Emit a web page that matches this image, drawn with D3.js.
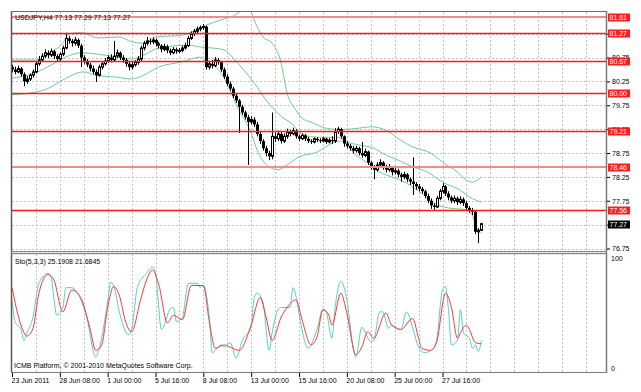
<!DOCTYPE html>
<html>
<head>
<meta charset="utf-8">
<script src="https://cdn.jsdelivr.net/npm/d3@7"></script>
<style>
  body { margin: 0; background: #fff; }
  svg text { font-family: "Liberation Sans", Arial, sans-serif; font-size: 7px; }
</style>
</head>
<body>
<script>
// ---- data (USDJPY H4, 23 Jun - 29 Jul 2011) ----
const symbol = "USDJPY,H4";

const opens = [
  80.55,80.50,80.45,80.52,80.40,80.25,80.30,80.38,80.45,80.62,
  80.70,80.78,80.85,80.80,80.88,80.78,80.72,80.82,80.95,81.15,
  81.10,81.05,81.12,81.00,80.75,80.68,80.60,80.52,80.45,80.38,
  80.55,80.62,80.68,80.75,80.70,80.78,80.85,80.75,80.70,80.62,
  80.55,80.60,80.65,80.72,80.95,81.05,81.10,81.08,81.12,81.05,
  81.00,80.92,80.98,80.90,80.85,80.92,80.88,80.90,80.95,81.00,
  81.15,81.25,81.30,81.35,81.38,81.40,80.55,80.62,80.58,80.70,
  80.65,80.50,80.35,80.20,80.10,79.95,79.85,79.72,79.60,79.50,
  79.40,79.45,79.35,79.15,79.00,78.85,78.75,78.68,79.10,79.05,
  79.15,79.00,79.10,79.20,79.15,79.22,79.10,79.05,79.12,79.05,
  79.00,78.98,79.05,79.02,79.00,79.05,78.98,79.02,79.00,79.20,
  79.25,79.10,78.95,78.90,78.85,78.80,78.85,78.75,78.70,78.78,
  78.55,78.45,78.40,78.50,78.55,78.45,78.40,78.45,78.35,78.38,
  78.30,78.25,78.30,78.20,78.15,78.10,78.05,78.00,77.95,77.85,
  77.75,77.65,77.62,77.80,77.95,78.05,77.90,77.82,77.75,77.80,
  77.72,77.78,77.70,77.60,77.55,77.52,77.10,77.13
];
const highs = [
  80.60,80.56,80.58,80.55,80.44,80.36,80.42,80.50,80.66,80.78,
  80.84,80.92,80.90,80.94,80.91,80.82,80.86,81.00,81.27,81.20,
  81.14,81.18,81.15,81.04,80.80,80.72,80.64,80.58,80.50,80.60,
  80.66,80.74,80.80,80.82,81.10,80.92,80.88,80.80,80.74,80.66,
  80.66,80.70,80.78,81.00,81.10,81.18,81.15,81.17,81.15,81.08,
  81.03,81.04,81.02,80.94,80.97,80.96,80.95,81.00,81.06,81.20,
  81.30,81.35,81.40,81.42,81.45,81.42,80.68,80.70,80.76,80.74,
  80.68,80.54,80.40,80.25,80.14,80.00,79.88,79.76,79.64,79.55,
  79.52,79.50,79.40,79.20,79.04,78.90,78.80,79.60,79.18,79.22,
  79.20,79.16,79.26,79.24,79.28,79.25,79.14,79.16,79.15,79.08,
  79.04,79.08,79.08,79.06,79.09,79.07,79.06,79.10,79.27,79.30,
  79.28,79.12,79.00,78.94,78.90,78.90,78.88,78.98,78.84,78.80,
  78.58,78.50,78.56,78.62,78.58,78.50,78.52,78.48,78.44,78.42,
  78.34,78.36,78.33,78.24,78.66,78.14,78.10,78.04,77.98,77.90,
  77.80,77.70,77.85,78.00,78.12,78.08,77.95,77.86,77.86,77.84,
  77.84,77.82,77.74,77.64,77.60,77.55,77.18,77.29
];
const lows = [
  80.44,80.40,80.42,80.35,80.15,80.20,80.26,80.33,80.42,80.58,
  80.66,80.74,80.74,80.76,80.72,80.66,80.68,80.78,80.92,81.04,
  80.98,81.00,80.95,80.55,80.62,80.55,80.46,80.40,80.24,80.35,
  80.50,80.58,80.64,80.65,80.66,80.74,80.70,80.64,80.56,80.48,
  80.50,80.56,80.60,80.68,80.90,81.00,81.02,81.03,80.98,80.94,
  80.86,80.88,80.84,80.80,80.82,80.83,80.84,80.86,80.92,80.97,
  81.12,81.20,81.26,81.30,81.33,80.50,80.50,80.52,80.55,80.60,
  80.45,80.30,80.15,80.05,79.90,79.80,79.17,79.55,79.45,78.50,
  79.35,79.30,79.10,78.94,78.80,78.68,78.60,78.62,78.98,79.00,
  78.95,78.96,79.05,79.10,79.12,79.05,79.00,79.02,79.00,78.96,
  78.94,78.95,78.98,78.96,78.97,78.94,78.95,78.94,78.96,79.15,
  79.05,78.88,78.85,78.80,78.74,78.76,78.70,78.65,78.66,78.50,
  78.40,78.20,78.36,78.46,78.40,78.34,78.36,78.28,78.30,78.24,
  78.15,78.20,78.14,78.08,77.87,77.98,77.95,77.90,77.80,77.70,
  77.58,77.56,77.60,77.76,77.90,77.85,77.76,77.70,77.70,77.66,
  77.68,77.64,77.55,77.50,77.45,77.05,76.86,77.13
];
const closes = [
  80.50,80.45,80.52,80.40,80.25,80.30,80.38,80.45,80.62,80.70,
  80.78,80.85,80.80,80.88,80.78,80.72,80.82,80.95,81.15,81.10,
  81.05,81.12,81.00,80.75,80.68,80.60,80.52,80.45,80.38,80.55,
  80.62,80.68,80.75,80.70,80.78,80.85,80.75,80.70,80.62,80.55,
  80.60,80.65,80.72,80.95,81.05,81.10,81.08,81.12,81.05,81.00,
  80.92,80.98,80.90,80.85,80.92,80.88,80.90,80.95,81.00,81.15,
  81.25,81.30,81.35,81.38,81.40,80.55,80.62,80.58,80.70,80.65,
  80.50,80.35,80.20,80.10,79.95,79.85,79.72,79.60,79.50,79.40,
  79.45,79.35,79.15,79.00,78.85,78.75,78.68,79.10,79.05,79.15,
  79.00,79.10,79.20,79.15,79.22,79.10,79.05,79.12,79.05,79.00,
  78.98,79.05,79.02,79.00,79.05,78.98,79.02,79.00,79.20,79.25,
  79.10,78.95,78.90,78.85,78.80,78.85,78.75,78.70,78.78,78.55,
  78.45,78.40,78.50,78.55,78.45,78.40,78.45,78.35,78.38,78.30,
  78.25,78.30,78.20,78.15,78.10,78.05,78.00,77.95,77.85,77.75,
  77.65,77.62,77.80,77.95,78.05,77.90,77.82,77.75,77.80,77.72,
  77.78,77.70,77.60,77.55,77.52,77.10,77.13,77.27
];

// Bollinger bands, sampled as [bar index, price]
const bbUpper = [[0,80.70],[8,80.70],[13,80.87],[17,81.05],[19,81.25],[23,81.27],[29,81.16],[36,81.18],[40,81.08],[44,81.05],[48,81.18],[57,81.22],[65,81.43],[70,81.54],[74,81.62],[77,81.74],[79,81.78],[80,81.70],[81,81.54],[84,81.18],[87,81.05],[90,80.64],[92,80.01],[95,79.65],[97,79.48],[100,79.40],[105,79.27],[110,79.24],[116,79.27],[120,79.30],[125,79.23],[130,79.02],[134,78.88],[140,78.75],[144,78.56],[149,78.35],[152,78.18],[154,78.14],[157,78.25]];
const bbMiddle = [[0,80.32],[7,80.41],[13,80.59],[18,80.76],[23,80.85],[29,80.82],[35,80.76],[40,80.72],[44,80.80],[49,80.95],[59,81.01],[63,80.97],[67,80.95],[71,80.91],[74,80.74],[77,80.53],[81,80.22],[85,79.86],[90,79.52],[94,79.34],[96,79.19],[100,79.09],[105,79.08],[109,79.08],[112,78.98],[116,78.92],[121,78.85],[125,78.71],[130,78.58],[134,78.46],[139,78.35],[144,78.14],[150,77.97],[153,77.83],[157,77.72]];
const bbLower = [[0,79.97],[4,79.99],[13,80.13],[17,80.28],[24,80.45],[28,80.38],[35,80.34],[40,80.30],[44,80.38],[49,80.55],[57,80.66],[63,80.76],[65,80.66],[69,80.50],[72,80.20],[75,79.76],[80,79.17],[82,78.81],[86,78.46],[89,78.40],[92,78.50],[96,78.67],[102,78.77],[105,78.88],[107,78.96],[110,79.00],[115,78.71],[119,78.54],[123,78.35],[127,78.25],[132,78.12],[134,78.04],[139,77.81],[141,77.70],[146,77.60],[152,77.56],[154,77.45],[155,77.24],[157,77.07]];

// Stochastic(5,3,3), sampled as [bar index, value]
const stochMain = [[0,62],[1,42],[3,35],[4,25],[5,32],[7,46],[9,77],[12,86],[13,83],[15,48],[17,55],[18,73],[20,73],[23,62],[25,46],[28,10],[29,16],[32,60],[33,78],[34,75],[36,50],[39,30],[40,35],[42,74],[45,86],[47,92],[48,86],[50,35],[53,54],[54,55],[55,42],[57,46],[59,77],[62,77],[63,73],[64,75],[66,46],[67,14],[70,21],[71,19],[73,23],[75,9],[77,25],[80,37],[81,64],[82,68],[84,59],[86,16],[87,32],[89,53],[90,55],[93,55],[94,73],[96,50],[97,35],[99,18],[102,35],[104,53],[105,52],[107,27],[108,53],[110,79],[112,62],[114,21],[115,10],[117,37],[120,24],[121,25],[123,51],[124,51],[126,36],[127,39],[130,35],[132,51],[134,37],[136,19],[138,14],[141,18],[142,25],[144,71],[145,74],[146,53],[147,21],[149,25],[150,53],[151,32],[153,27],[154,18],[155,21],[156,15],[157,25]];
const stochSignal = [[0,73],[3,39],[5,29],[7,36],[9,68],[12,85],[14,80],[17,51],[20,71],[23,64],[26,37],[28,16],[30,21],[32,55],[34,74],[36,65],[38,42],[40,33],[43,62],[45,80],[47,89],[49,77],[52,41],[54,48],[57,44],[60,75],[64,75],[66,42],[68,18],[71,21],[73,19],[76,16],[80,39],[83,64],[85,46],[87,25],[90,46],[92,55],[95,62],[97,44],[100,21],[102,28],[104,53],[106,48],[107,39],[110,68],[112,50],[115,12],[117,19],[119,33],[121,27],[125,50],[127,39],[130,35],[134,45],[136,27],[137,18],[140,16],[142,23],[145,68],[147,55],[149,27],[150,32],[152,39],[153,35],[155,23],[157,22]];
const stochLast = [25.1908, 21.6845];

// horizontal levels drawn on the chart
const levels = [81.61, 81.27, 80.67, 80.00, 79.21, 78.46, 77.56];
const bidPrice = 77.27;
const priceTicks = [76.75, 77.25, 77.75, 78.25, 78.75, 79.25, 79.75, 80.25, 80.75, 81.25];

const timeBars = [0, 16, 32, 48, 64, 80, 96, 112, 128, 144];
const timeLabels = ["23 Jun 2011", "28 Jun 08:00", "1 Jul 00:00", "5 Jul 16:00", "8 Jul 08:00",
  "13 Jul 00:00", "15 Jul 16:00", "20 Jul 08:00", "25 Jul 00:00", "27 Jul 16:00"];

// ---- layout ----
const left = 12, right = 606;
const mainTop = 12, mainBottom = 251;
const subTop = 254, subBottom = 372;

const x = d3.scaleLinear().domain([0, 192]).range([12, 586]);
const y = d3.scaleLinear().domain([76.75, 81.61]).range([248.5, 16.5]);
const ys = d3.scaleLinear().domain([0, 100]).range([368, 258]);

const px = (v) => Math.round(v) + 0.5;
const fmt = d3.format(".2f");
const fontFamily = "'Liberation Sans', Arial, sans-serif";

const svg = d3.select("body").append("svg").attr("width", 641).attr("height", 392);

const defs = svg.append("defs");
defs.append("clipPath").attr("id", "clip-main")
  .append("rect").attr("x", left).attr("y", mainTop).attr("width", right - left).attr("height", mainBottom - mainTop);
defs.append("clipPath").attr("id", "clip-sub")
  .append("rect").attr("x", left).attr("y", subTop).attr("width", right - left).attr("height", subBottom - subTop);

// grid
const gridBars = d3.range(8, 193, 8);
const grid = svg.append("g").attr("stroke", "#c4c4c4").attr("stroke-dasharray", "2,2").attr("stroke-width", 1);
grid.selectAll(null).data(gridBars).join("line")
  .attr("x1", (d) => px(x(d))).attr("x2", (d) => px(x(d)))
  .attr("y1", mainTop).attr("y2", mainBottom);
grid.selectAll(null).data(gridBars).join("line")
  .attr("x1", (d) => px(x(d))).attr("x2", (d) => px(x(d)))
  .attr("y1", subTop).attr("y2", subBottom);
grid.selectAll(null).data(priceTicks).join("line")
  .attr("x1", left).attr("x2", right)
  .attr("y1", (d) => px(y(d))).attr("y2", (d) => px(y(d)));

// Bollinger bands
const main = svg.append("g").attr("clip-path", "url(#clip-main)");
const bandLine = d3.line().x((d) => x(d[0])).y((d) => y(d[1])).curve(d3.curveMonotoneX);
[bbUpper, bbMiddle, bbLower].forEach((band) => {
  main.append("path").datum(band)
    .attr("fill", "none").attr("stroke", "#6ccb96").attr("stroke-width", 1)
    .attr("d", bandLine);
});

// candles
const bars = closes.map((c, i) => ({ i, o: opens[i], h: highs[i], l: lows[i], c }));
const candle = main.append("g").selectAll("g").data(bars).join("g");
candle.append("line")
  .attr("x1", (d) => px(x(d.i))).attr("x2", (d) => px(x(d.i)))
  .attr("y1", (d) => y(d.h)).attr("y2", (d) => y(d.l))
  .attr("stroke", "#000").attr("stroke-width", 1);
candle.append("rect")
  .attr("x", (d) => d.c >= d.o ? Math.round(x(d.i)) - 0.5 : Math.round(x(d.i)) - 1)
  .attr("width", (d) => d.c >= d.o ? 2 : 3)
  .attr("y", (d) => y(Math.max(d.o, d.c)))
  .attr("height", (d) => Math.max(1, Math.abs(y(d.o) - y(d.c))))
  .attr("fill", (d) => d.c >= d.o ? "#fff" : "#000")
  .attr("stroke", (d) => d.c >= d.o ? "#000" : "none")
  .attr("stroke-width", 1);

// red levels, on top of the bars like MT4 objects
const softLevels = new Set([81.61, 78.46]);
svg.append("g").selectAll(null).data(levels).join("rect")
  .attr("x", left).attr("width", right - left)
  .attr("y", (d) => softLevels.has(d) ? Math.round(y(d)) - 1 : Math.round(y(d)) - 0.25)
  .attr("height", (d) => softLevels.has(d) ? 2 : 1.5)
  .attr("fill", (d) => softLevels.has(d) ? "#f58a8a" : "#ff1a1a");

// stochastic
const sub = svg.append("g").attr("clip-path", "url(#clip-sub)");
const stochLine = d3.line().x((d) => x(d[0])).y((d) => ys(d[1])).curve(d3.curveMonotoneX);
sub.append("path").datum(stochMain)
  .attr("fill", "none").attr("stroke", "#55cfc6").attr("stroke-width", 1).attr("d", stochLine);
sub.append("path").datum(stochSignal)
  .attr("fill", "none").attr("stroke", "#ff3535").attr("stroke-width", 1).attr("d", stochLine);

// frames
const frame = svg.append("g").attr("fill", "none");
frame.append("line").attr("x1", 11.5).attr("x2", 11.5).attr("y1", 11).attr("y2", subBottom + 0.5)
  .attr("stroke", "#5a5a5a").attr("stroke-width", 1.5);
frame.append("line").attr("x1", 11).attr("x2", right + 1).attr("y1", 11.5).attr("y2", 11.5)
  .attr("stroke", "#6a6a6a");
frame.append("line").attr("x1", right + 0.5).attr("x2", right + 0.5).attr("y1", 11).attr("y2", subBottom + 1)
  .attr("stroke", "#7a7a7a").attr("stroke-width", 1.5);
frame.append("line").attr("x1", 11).attr("x2", right + 1).attr("y1", mainBottom + 0.5).attr("y2", mainBottom + 0.5)
  .attr("stroke", "#8a8a8a");
frame.append("line").attr("x1", 11).attr("x2", right + 1).attr("y1", subTop - 0.5).attr("y2", subTop - 0.5)
  .attr("stroke", "#8a8a8a").attr("stroke-width", 1.5);
frame.append("line").attr("x1", 11).attr("x2", right + 1).attr("y1", subBottom + 0.5).attr("y2", subBottom + 0.5)
  .attr("stroke", "#7a7a7a");

// price axis; labels sitting fully under a level box are not drawn (hidden in MT4 too)
const boxed = levels.concat([bidPrice]);
const hidden = (t) => boxed.some((v) => Math.abs(y(v) - y(t)) < 1.5);
const yAxis = svg.append("g").attr("transform", `translate(${right + 1},0)`)
  .call(d3.axisRight(y).tickValues(priceTicks).tickSize(3).tickPadding(2)
    .tickFormat((t) => hidden(t) ? "" : fmt(t)));
yAxis.select(".domain").remove();
yAxis.selectAll("text").style("font-size", "7px").style("font-family", fontFamily).attr("fill", "#000");

// level boxes
const boxes = svg.append("g");
const addBox = (v, fill) => {
  const cy = Math.round(y(v));
  boxes.append("rect").attr("x", 608).attr("y", cy - 3.5).attr("width", 22).attr("height", 8).attr("fill", fill);
  boxes.append("text").attr("x", 609.5).attr("y", cy + 3).attr("fill", "#fff").text(fmt(v));
};
levels.forEach((v) => addBox(v, "#ff1c1c"));
addBox(bidPrice, "#000");

// stochastic axis
const sAxis = svg.append("g").attr("transform", `translate(${right + 1},0)`)
  .call(d3.axisRight(ys).tickValues([0, 100]).tickSize(0).tickPadding(4).tickFormat(d3.format("d")));
sAxis.select(".domain").remove();
sAxis.selectAll("text").style("font-size", "7px").style("font-family", fontFamily).attr("fill", "#000");

// time axis
const xAxis = svg.append("g").attr("transform", `translate(0,${subBottom + 1})`)
  .call(d3.axisBottom(x).tickValues(timeBars).tickSize(4).tickPadding(1).tickFormat((d, i) => timeLabels[i]));
xAxis.select(".domain").remove();
xAxis.selectAll("text").attr("text-anchor", "start").attr("x", -1)
  .style("font-size", "7px").style("font-family", fontFamily).attr("fill", "#000");

// captions
const last = bars[bars.length - 1];
svg.append("text").attr("x", 15).attr("y", 20)
  .text(`${symbol} ${fmt(last.o)} ${fmt(last.h)} ${fmt(last.l)} ${fmt(last.c)}`);
svg.append("text").attr("x", 15).attr("y", 264)
  .text(`Sto(5,3,3) ${stochLast[0].toFixed(4)} ${stochLast[1].toFixed(4)}`);
svg.append("text").attr("x", 14).attr("y", 367.5)
  .text("ICMB Platform, © 2001-2010 MetaQuotes Software Corp.");
</script>
</body>
</html>
